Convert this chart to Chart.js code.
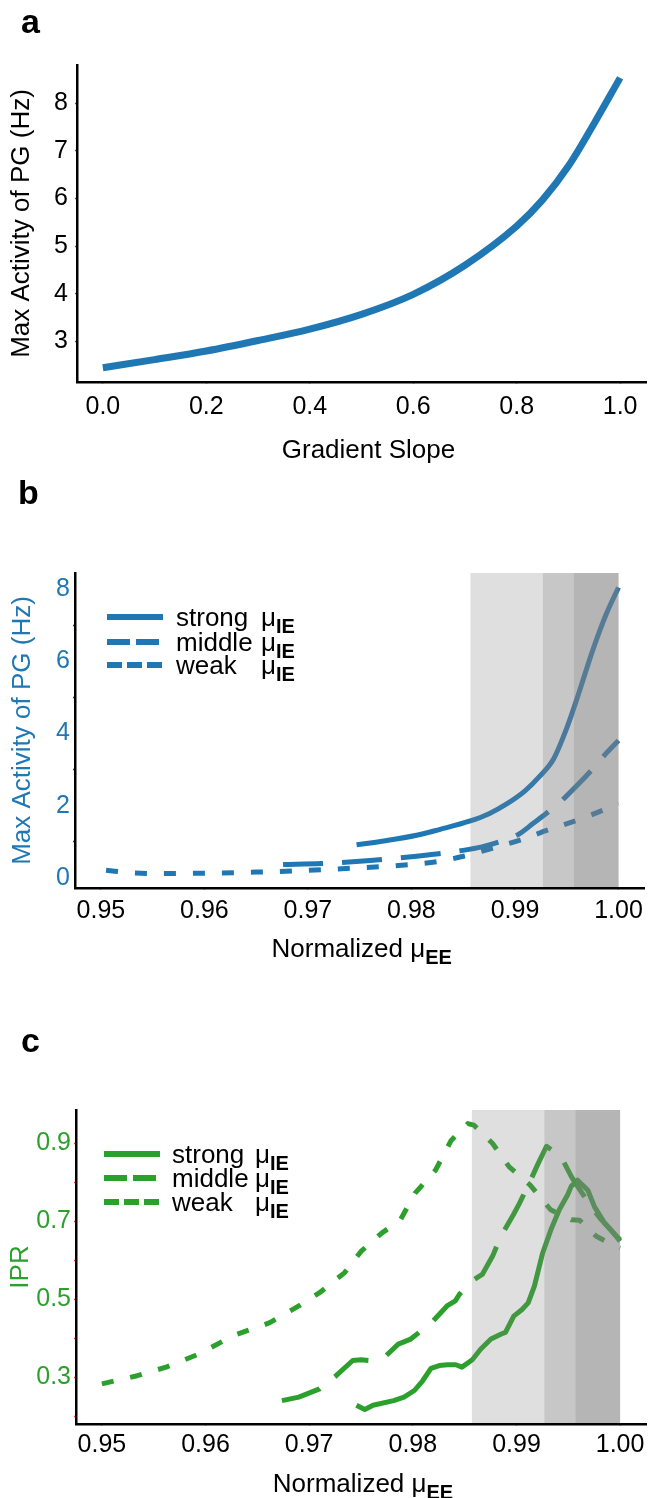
<!DOCTYPE html>
<html>
<head>
<meta charset="utf-8">
<script src="https://cdn.jsdelivr.net/npm/chart.js@4.4.0/dist/chart.umd.min.js"></script>
<style>
  body { margin: 0; background: #fff; }
  #page { position: relative; width: 649px; height: 1498px; }
  canvas { position: absolute; left: 0; }
</style>
</head>
<body>
<div id="page">
  <canvas id="panelA" width="649" height="470" style="top:0px"></canvas>
  <canvas id="panelB" width="649" height="540" style="top:470px"></canvas>
  <canvas id="panelC" width="649" height="488" style="top:1010px"></canvas>
</div>
<script>
// ---- panel a : max activity vs gradient slope ----
const slopeX = [0, 0.1, 0.2, 0.3, 0.4, 0.5, 0.6, 0.7, 0.8, 0.85, 0.9, 0.95, 1.0];
const activityA = [2.45, 2.62, 2.80, 3.02, 3.26, 3.57, 3.99, 4.60, 5.42, 5.97, 6.68, 7.58, 8.53];
const slopeTicks = [0, 0.2, 0.4, 0.6, 0.8, 1.0];
const activityTicksA = [3, 4, 5, 6, 7, 8];

// ---- panel b : max activity vs normalized mu_EE ----
const strongXB = [0.9747, 0.9775, 0.9805, 0.9827, 0.9856, 0.9875, 0.9892, 0.9910, 0.9924, 0.9937, 0.9950, 0.9962, 0.9975, 0.9988, 1.0];
const strongYB = [0.92, 1.03, 1.18, 1.34, 1.57, 1.78, 2.05, 2.42, 2.82, 3.28, 4.15, 5.15, 6.30, 7.30, 8.05];
const middleXB = [0.9676, 0.9713, 0.975, 0.978, 0.9805, 0.983, 0.9847, 0.9868, 0.9885, 0.9903, 0.9918, 0.9933, 0.9948, 0.9962, 0.9975, 0.9988, 1.0];
const middleYB = [0.37, 0.40, 0.46, 0.53, 0.60, 0.68, 0.75, 0.86, 1.00, 1.20, 1.52, 1.85, 2.22, 2.62, 3.02, 3.45, 3.81];
const weakXB = [0.9505, 0.953, 0.9555, 0.96, 0.965, 0.97, 0.975, 0.98, 0.9827, 0.985, 0.9879, 0.9906, 0.9933, 0.9966, 1.0];
const weakYB = [0.21, 0.14, 0.12, 0.13, 0.16, 0.21, 0.28, 0.37, 0.46, 0.60, 0.83, 1.06, 1.34, 1.66, 2.05];
const activityTicksB = [0, 2, 4, 6, 8];
const activityMarksB = [0, 1, 2, 3, 4, 5, 6, 7, 8];

// ---- panel c : IPR vs normalized mu_EE ----
const strongXC = [0.97456, 0.97536, 0.97616, 0.97815, 0.97915, 0.98015, 0.98095, 0.98175, 0.98255, 0.98335, 0.98415, 0.98474, 0.98574, 0.98654, 0.98754, 0.98854, 0.98894, 0.98974, 0.99054, 0.99113, 0.99173, 0.99253, 0.99333, 0.99413, 0.99493, 0.99528, 0.9959, 0.9963, 0.99689, 0.99752, 0.9985, 0.9993, 1.0];
const strongYC = [0.228, 0.217, 0.228, 0.240, 0.249, 0.266, 0.291, 0.323, 0.330, 0.332, 0.332, 0.326, 0.345, 0.372, 0.398, 0.411, 0.415, 0.457, 0.474, 0.491, 0.534, 0.619, 0.679, 0.730, 0.768, 0.790, 0.806, 0.795, 0.780, 0.738, 0.696, 0.672, 0.653];
const middleXC = [0.96737, 0.9690, 0.9710, 0.9726, 0.9742, 0.9750, 0.9758, 0.9774, 0.9786, 0.9798, 0.9818, 0.9833, 0.9841, 0.9845, 0.9857, 0.9867, 0.9877, 0.9885, 0.9897, 0.9903, 0.9913, 0.9921, 0.9929, 0.9943, 0.9953, 0.9959, 0.9972, 0.9982, 0.9991, 1.0];
const middleYC = [0.240, 0.249, 0.270, 0.304, 0.343, 0.345, 0.343, 0.355, 0.385, 0.398, 0.440, 0.483, 0.496, 0.513, 0.547, 0.564, 0.611, 0.662, 0.717, 0.747, 0.802, 0.849, 0.893, 0.866, 0.815, 0.790, 0.738, 0.704, 0.679, 0.649];
const weakXC = [0.9500, 0.9534, 0.9562, 0.9594, 0.9626, 0.9662, 0.9690, 0.9710, 0.9734, 0.9750, 0.9770, 0.9788, 0.9802, 0.9822, 0.9837, 0.9853, 0.9859, 0.9877, 0.9893, 0.9913, 0.9933, 0.9953, 0.9961, 0.9977, 0.9989, 1.0];
const weakYC = [0.283, 0.304, 0.326, 0.360, 0.406, 0.440, 0.483, 0.517, 0.568, 0.623, 0.670, 0.704, 0.772, 0.832, 0.908, 0.951, 0.947, 0.900, 0.840, 0.794, 0.730, 0.704, 0.703, 0.662, 0.645, 0.632];
const iprTicks = [0.3, 0.5, 0.7, 0.9];
const iprMarks = [0.2, 0.3, 0.4, 0.5, 0.6, 0.7, 0.8, 0.9];

const muTicks = [0.95, 0.96, 0.97, 0.98, 0.99, 1.00];
// grey bands (nested, each runs to 1.0)
const shadeStarts = [0.9857, 0.9927, 0.9957];
const shadeEnd = 1.0;

const BLUE = '#1f77b4';
const GREEN = '#2ca02c';
const FONT = '"Liberation Sans", Arial, Helvetica, sans-serif';
const DASH_MID = [40, 19];
const DASH_WEAK = [12, 17];

Chart.defaults.font.family = FONT;
Chart.defaults.color = '#000';

function pts(xs, ys) {
  return xs.map((x, i) => ({ x: x, y: ys[i] }));
}

function fixTicks(values) {
  return scale => { scale.ticks = values.map(v => ({ value: v })); };
}

// draw "main" then a bold lowered subscript, starting at x
function drawSub(ctx, main, sub, x, y, size) {
  ctx.font = size + 'px ' + FONT;
  ctx.fillText(main, x, y);
  const w = ctx.measureText(main).width;
  ctx.font = 'bold ' + Math.round(size * 0.75) + 'px ' + FONT;
  ctx.fillText(sub, x + w, y + 7);
  return w + ctx.measureText(sub).width;
}

function subWidth(ctx, main, sub, size) {
  ctx.font = size + 'px ' + FONT;
  const w = ctx.measureText(main).width;
  ctx.font = 'bold ' + Math.round(size * 0.75) + 'px ' + FONT;
  return w + ctx.measureText(sub).width;
}

function panelDecor(cfg) {
  return {
    id: 'panelDecor',
    afterDatasetsDraw(chart) {
      if (!cfg.shade) return;
      const { ctx, chartArea, scales } = chart;
      const xEnd = scales.x.getPixelForValue(shadeEnd);
      ctx.save();
      ctx.fillStyle = 'rgba(128,128,128,0.25)';
      shadeStarts.forEach(s => {
        const x0 = scales.x.getPixelForValue(s);
        ctx.fillRect(x0, chartArea.top, xEnd - x0, chartArea.bottom - chartArea.top - 1);
      });
      ctx.restore();
    },
    afterDraw(chart) {
      const { ctx, chartArea } = chart;
      ctx.save();
      ctx.fillStyle = '#000';
      ctx.textAlign = 'left';
      ctx.textBaseline = 'alphabetic';
      ctx.font = 'bold 34px ' + FONT;
      ctx.fillText(cfg.letter, cfg.letterX, cfg.letterY);

      // y axis title
      ctx.save();
      ctx.translate(cfg.yTitleX, (chartArea.top + chartArea.bottom) / 2);
      ctx.rotate(-Math.PI / 2);
      ctx.textAlign = 'center';
      ctx.textBaseline = 'middle';
      ctx.font = '26px ' + FONT;
      ctx.fillStyle = cfg.yColor;
      ctx.fillText(cfg.yTitle, 0, 0);
      ctx.restore();

      // x axis title
      ctx.fillStyle = '#000';
      const cx = (chartArea.left + chartArea.right) / 2 + (cfg.xTitleShift || 0);
      const tw = subWidth(ctx, cfg.xTitle, cfg.xSub, 26);
      drawSub(ctx, cfg.xTitle, cfg.xSub, cx - tw / 2, cfg.xTitleY, 26);

      // legend
      if (cfg.legend) {
        const L = cfg.legend;
        const rows = [
          { word: 'strong', dash: [] },
          { word: 'middle', dash: [23, 6] },
          { word: 'weak', dash: [15, 5] }
        ];
        rows.forEach((r, i) => {
          const y = L.rows[i];
          ctx.save();
          ctx.strokeStyle = L.color;
          ctx.lineWidth = 6;
          ctx.lineCap = 'butt';
          ctx.setLineDash(r.dash);
          ctx.beginPath();
          ctx.moveTo(L.x0, y);
          ctx.lineTo(L.x1, y);
          ctx.stroke();
          ctx.restore();
          ctx.fillStyle = '#000';
          ctx.font = '26px ' + FONT;
          ctx.fillText(r.word, L.textX, y + 9);
          drawSub(ctx, '\u03bc', 'IE', L.muX, y + 9, 26);
        });
      }
      ctx.restore();
    }
  };
}

function axisX(min, max, ticks, fmt, height, pad) {
  return {
    type: 'linear', min: min, max: max,
    afterBuildTicks: fixTicks(ticks),
    afterFit: s => { s.height = height; },
    grid: { drawOnChartArea: false, drawTicks: true, tickLength: 2, tickWidth: 1.5, tickColor: '#555' },
    border: { display: true, color: '#000', width: 2.5 },
    ticks: { font: { size: 25 }, color: '#000', padding: pad, maxRotation: 0, autoSkip: false, callback: fmt }
  };
}

function axisY(min, max, marks, fmt, width, pad, color, markColor) {
  return {
    type: 'linear', min: min, max: max,
    afterBuildTicks: fixTicks(marks),
    afterFit: s => { s.width = width; },
    grid: { drawOnChartArea: false, drawTicks: true, tickLength: 2, tickWidth: 1.5, tickColor: markColor },
    border: { display: true, color: '#000', width: 2.5 },
    ticks: { font: { size: 25 }, color: color, padding: pad, autoSkip: false, callback: fmt }
  };
}

function lineSet(xs, ys, color, width, dash, smooth) {
  return {
    data: pts(xs, ys),
    borderColor: color,
    borderWidth: width,
    borderDash: dash,
    borderCapStyle: 'butt',
    borderJoinStyle: 'round',
    pointRadius: 0,
    fill: false,
    cubicInterpolationMode: smooth ? 'monotone' : 'default',
    tension: 0
  };
}

const common = {
  responsive: false,
  animation: false,
  devicePixelRatio: 1,
  plugins: { legend: { display: false }, tooltip: { enabled: false } }
};

// panel a
new Chart(document.getElementById('panelA'), {
  type: 'line',
  data: { datasets: [lineSet(slopeX, activityA, BLUE, 7, [], true)] },
  options: Object.assign({}, common, {
    layout: { padding: { top: 65, right: 3, left: 0, bottom: 0 } },
    scales: {
      x: axisX(-0.05, 1.05, slopeTicks, v => v.toFixed(1), 88, 8),
      y: axisY(2.15, 8.8, activityTicksA, v => String(v), 77, 7, '#000', '#555')
    }
  }),
  plugins: [panelDecor({
    letter: 'a', letterX: 21, letterY: 33,
    yTitle: 'Max Activity of PG (Hz)', yTitleX: 22, yColor: '#000',
    xTitle: 'Gradient Slope', xSub: '', xTitleY: 458, xTitleShift: 7
  })]
});

// panel b
new Chart(document.getElementById('panelB'), {
  type: 'line',
  data: {
    datasets: [
      lineSet(strongXB, strongYB, BLUE, 5, [], true),
      lineSet(middleXB, middleYB, BLUE, 5, DASH_MID, true),
      lineSet(weakXB, weakYB, BLUE, 5, DASH_WEAK, true)
    ]
  },
  options: Object.assign({}, common, {
    layout: { padding: { top: 103, right: 4, left: 0, bottom: 0 } },
    scales: {
      x: axisX(0.9475, 1.0025, muTicks, v => v.toFixed(2), 122, 6),
      y: axisY(-0.28, 8.45, activityMarksB, v => activityTicksB.includes(v) ? String(v) : '', 75, 3, BLUE,
        ctx => (ctx.tick && ctx.tick.value % 2 === 1) ? '#22226e' : 'rgba(0,0,0,0)')
    }
  }),
  plugins: [panelDecor({
    letter: 'b', letterX: 18, letterY: 34, shade: true,
    yTitle: 'Max Activity of PG (Hz)', yTitleX: 23, yColor: BLUE,
    xTitle: 'Normalized \u03bc', xSub: 'EE', xTitleY: 487, xTitleShift: 2,
    legend: { color: BLUE, x0: 107, x1: 163, rows: [147, 172, 195], textX: 176, muX: 261 }
  })]
});

// panel c
new Chart(document.getElementById('panelC'), {
  type: 'line',
  data: {
    datasets: [
      lineSet(strongXC, strongYC, GREEN, 5, [], false),
      lineSet(middleXC, middleYC, GREEN, 5, DASH_MID, false),
      lineSet(weakXC, weakYC, GREEN, 5, DASH_WEAK, false)
    ]
  },
  options: Object.assign({}, common, {
    layout: { padding: { top: 100, right: 3, left: 0, bottom: 0 } },
    scales: {
      x: axisX(0.9475, 1.0025, muTicks, v => v.toFixed(2), 74, 4),
      y: axisY(0.18, 0.986, iprMarks,
        v => iprTicks.some(t => Math.abs(t - v) < 1e-6) ? v.toFixed(1) : '', 76, 3, GREEN, '#ff2a2a')
    }
  }),
  plugins: [panelDecor({
    letter: 'c', letterX: 21, letterY: 42, shade: true,
    yTitle: 'IPR', yTitleX: 21, yColor: GREEN,
    xTitle: 'Normalized \u03bc', xSub: 'EE', xTitleY: 482, xTitleShift: 2,
    legend: { color: GREEN, x0: 104, x1: 160, rows: [144, 168, 192], textX: 172, muX: 255 }
  })]
});
</script>
</body>
</html>
